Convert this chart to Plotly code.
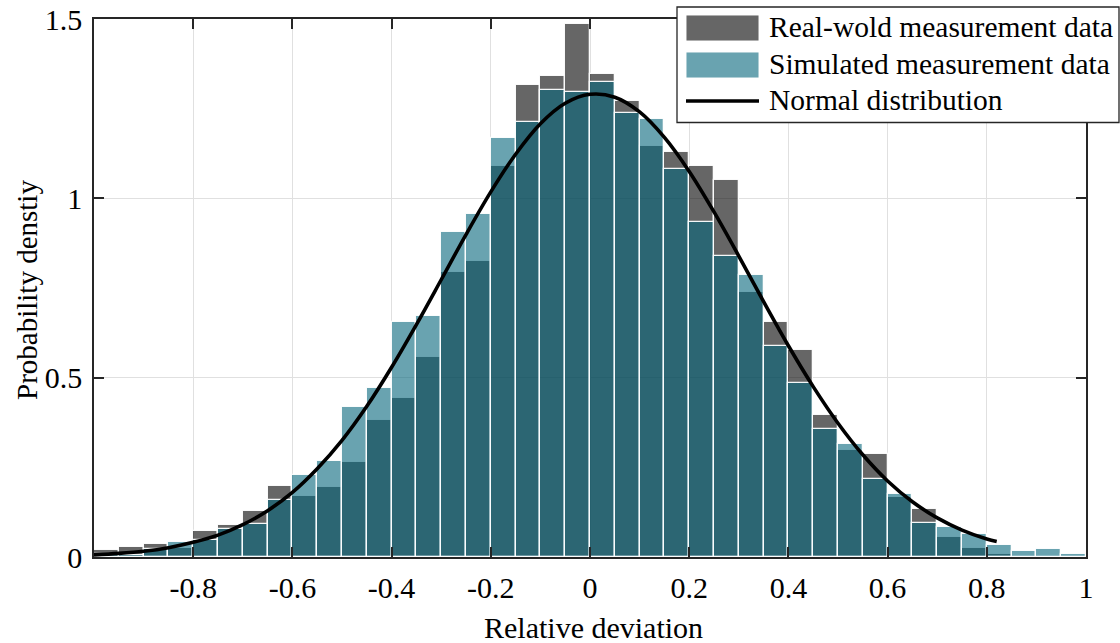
import plotly.graph_objects as go

# Histogram bins: 40 bins of width 0.05 covering [-1, 1]
BIN_START = -1.0
BIN_WIDTH = 0.05

# Probability density per bin
real_density = [
    0.019, 0.029, 0.036, 0.024, 0.073, 0.088, 0.127, 0.199, 0.171, 0.194,
    0.265, 0.381, 0.442, 0.557, 0.794, 0.825, 1.090, 1.317, 1.340, 1.485,
    1.347, 1.270, 1.147, 1.129, 1.089, 1.052, 0.739, 0.655, 0.578, 0.396,
    0.297, 0.286, 0.167, 0.134, 0.055, 0.024, 0.008, 0.0, 0.0, 0.0,
]
sim_density = [
    0.008, 0.006, 0.023, 0.042, 0.047, 0.077, 0.091, 0.159, 0.229, 0.268,
    0.418, 0.470, 0.655, 0.673, 0.905, 0.955, 1.168, 1.213, 1.302, 1.296,
    1.323, 1.238, 1.221, 1.082, 0.935, 0.840, 0.786, 0.589, 0.484, 0.357,
    0.315, 0.218, 0.175, 0.096, 0.085, 0.063, 0.033, 0.018, 0.023, 0.009,
]

# Fitted normal density curve samples
curve_x = [
    -1.00, -0.95, -0.90, -0.85, -0.80, -0.75, -0.70, -0.65, -0.60, -0.55,
    -0.50, -0.45, -0.40, -0.35, -0.30, -0.25, -0.20, -0.15, -0.10, -0.05,
    0.00, 0.05, 0.10, 0.15, 0.20, 0.25, 0.30, 0.35, 0.40, 0.45,
    0.50, 0.55, 0.60, 0.65, 0.70, 0.75, 0.80, 0.82,
]
curve_y = [
    0.006, 0.010, 0.016, 0.026, 0.041, 0.061, 0.090, 0.129, 0.180, 0.246,
    0.325, 0.420, 0.529, 0.648, 0.773, 0.899, 1.018, 1.123, 1.208, 1.265,
    1.290, 1.282, 1.241, 1.170, 1.075, 0.962, 0.839, 0.712, 0.589, 0.475,
    0.373, 0.285, 0.212, 0.154, 0.109, 0.075, 0.050, 0.043,
]

x_tick_vals = [-0.8, -0.6, -0.4, -0.2, 0, 0.2, 0.4, 0.6, 0.8, 1]
x_tick_text = ["-0.8", "-0.6", "-0.4", "-0.2", "0", "0.2", "0.4", "0.6", "0.8", "1"]
y_tick_vals = [0, 0.5, 1, 1.5]
y_tick_text = ["0", "0.5", "1", "1.5"]

legend_labels = ["Real-wold measurement data", "Simulated measurement data", "Normal distribution"]

FONT = "Liberation Serif, Times New Roman, serif"
REAL_FILL = "rgba(0,0,0,0.6)"
SIM_FILL = "rgba(5,102,124,0.6)"
EDGE = "rgba(255,255,255,0.95)"
AXIS_COLOR = "#262626"

W, H = 1120, 643
ML, MR, MT, MB = 94, 34, 19, 86
PW, PH = W - ML - MR, H - MT - MB

centers = [BIN_START + BIN_WIDTH * (i + 0.5) for i in range(len(real_density))]

fig = go.Figure()
fig.add_trace(go.Bar(
    x=centers, y=real_density, width=BIN_WIDTH, name=legend_labels[0],
    marker=dict(color=REAL_FILL, line=dict(color=EDGE, width=1.3)),
    showlegend=False,
))
fig.add_trace(go.Bar(
    x=centers, y=sim_density, width=BIN_WIDTH, name=legend_labels[1],
    marker=dict(color=SIM_FILL, line=dict(color=EDGE, width=1.3)),
    showlegend=False,
))
fig.add_trace(go.Scatter(
    x=curve_x, y=curve_y, mode="lines", name=legend_labels[2],
    line=dict(color="black", width=3.6, shape="spline"),
    showlegend=False,
))


def px_x(px):
    return (px - ML) / PW


def px_y(py):
    return (H - MB - py) / PH


# Legend box drawn with shapes and text
shapes = [dict(
    type="rect", xref="paper", yref="paper",
    x0=px_x(677), x1=px_x(1119), y0=px_y(122.5), y1=px_y(7),
    fillcolor="white", line=dict(color=AXIS_COLOR, width=1.3), layer="above",
)]
annotations = []
rows = [27, 64, 99.5]
shapes.append(dict(
    type="rect", xref="paper", yref="paper",
    x0=px_x(686), x1=px_x(759), y0=px_y(41), y1=px_y(15),
    fillcolor=REAL_FILL, line=dict(color=EDGE, width=1), layer="above",
))
shapes.append(dict(
    type="rect", xref="paper", yref="paper",
    x0=px_x(686), x1=px_x(759), y0=px_y(78), y1=px_y(52),
    fillcolor=SIM_FILL, line=dict(color=EDGE, width=1), layer="above",
))
shapes.append(dict(
    type="line", xref="paper", yref="paper",
    x0=px_x(686), x1=px_x(759), y0=px_y(101), y1=px_y(101),
    line=dict(color="black", width=3.6), layer="above",
))
for label, ry in zip(legend_labels, rows):
    annotations.append(dict(
        x=px_x(767), y=px_y(ry), xref="paper", yref="paper",
        text=label, showarrow=False, xanchor="left", yanchor="middle",
        font=dict(family=FONT, size=29.5, color="black"),
    ))

# Axis titles
annotations.append(dict(
    x=px_x(593), y=px_y(627), xref="paper", yref="paper",
    text="Relative deviation", showarrow=False, xanchor="center", yanchor="middle",
    font=dict(family=FONT, size=30, color="black"),
))
annotations.append(dict(
    x=px_x(27), y=px_y(290), xref="paper", yref="paper",
    text="Probability denstiy", showarrow=False, xanchor="center", yanchor="middle",
    textangle=-90, font=dict(family=FONT, size=29, color="black"),
))

axis_common = dict(
    showline=True, linecolor=AXIS_COLOR, linewidth=1.5, mirror="ticks",
    ticks="inside", ticklen=10, tickwidth=1.5, tickcolor=AXIS_COLOR,
    showgrid=True, gridcolor="rgb(224,224,224)", gridwidth=1,
    zeroline=False, automargin=False,
    tickfont=dict(family=FONT, size=30, color="black"),
)

fig.update_layout(
    width=W, height=H,
    margin=dict(l=ML, r=MR, t=MT, b=MB, autoexpand=False),
    paper_bgcolor="white", plot_bgcolor="white",
    barmode="overlay", bargap=0,
    xaxis=dict(range=[-1, 1], tickvals=x_tick_vals, ticktext=x_tick_text,
               ticklabelstandoff=3, **axis_common),
    yaxis=dict(range=[0, 1.5], tickvals=y_tick_vals, ticktext=y_tick_text,
               ticklabelstandoff=4, **axis_common),
    shapes=shapes, annotations=annotations,
    showlegend=False,
)

fig.write_html("out.html")
